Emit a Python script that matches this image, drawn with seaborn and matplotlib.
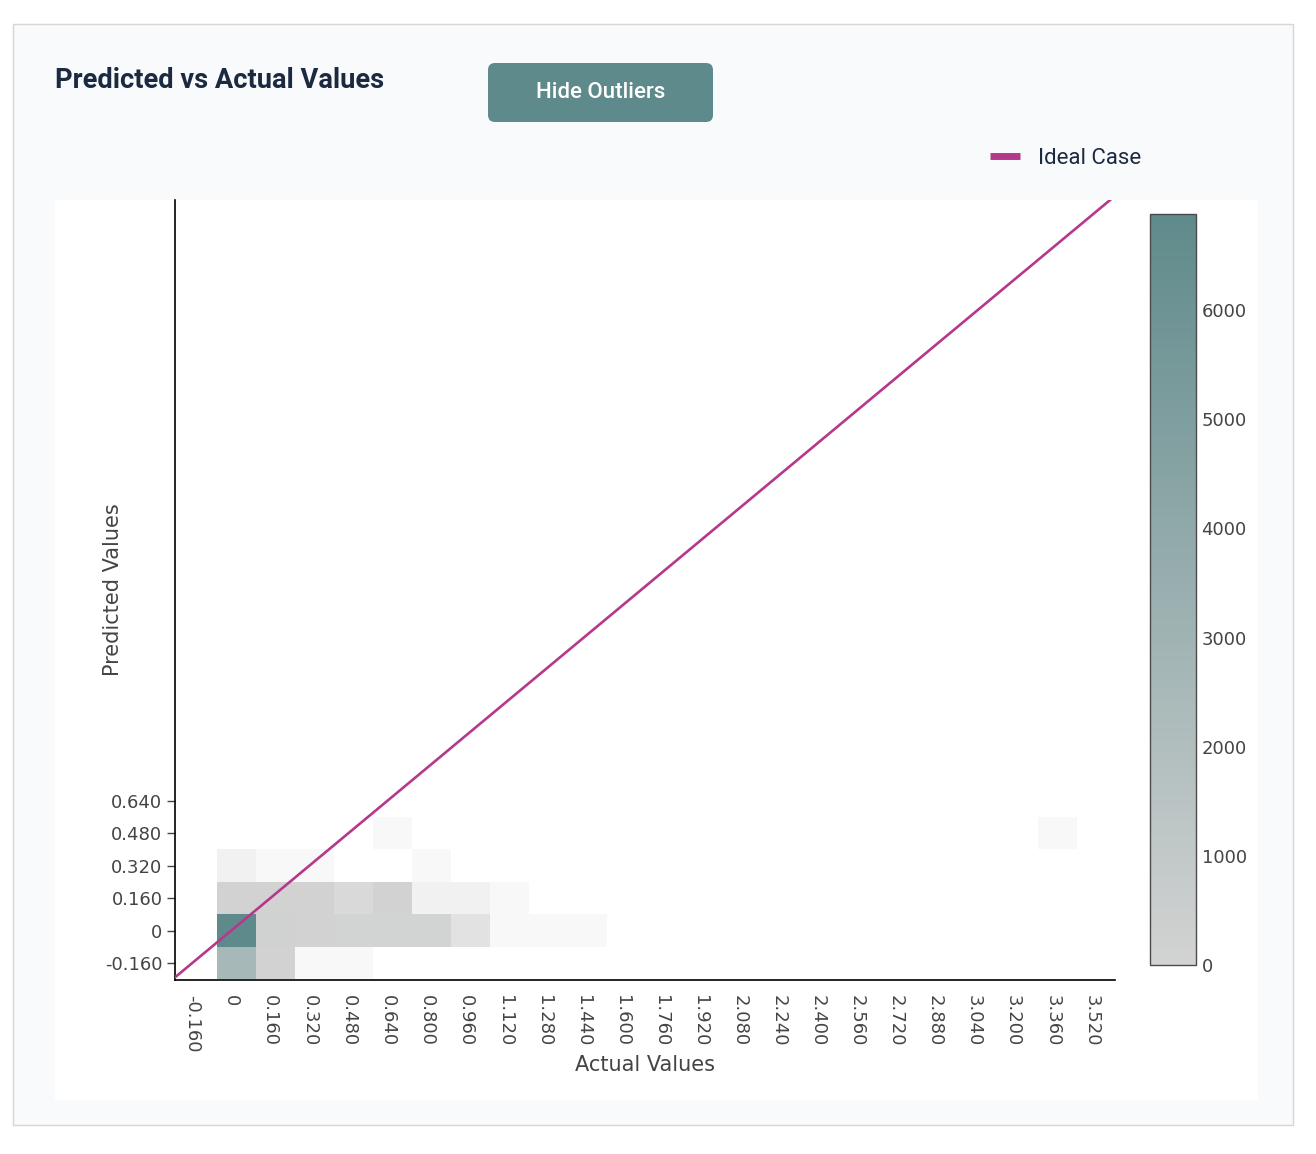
import numpy as np
import matplotlib
matplotlib.use("Agg")
import matplotlib.pyplot as plt
import seaborn as sns
from matplotlib.colors import LinearSegmentedColormap, Normalize
from matplotlib.cm import ScalarMappable
from matplotlib.patches import Rectangle, FancyBboxPatch
from matplotlib.transforms import Affine2D
from matplotlib.lines import Line2D

# ---------------- data (bin centres of the 2D histogram + counts) ----------------
actual_values = [0.02, 0.18, 0.34, 0.50,
                 0.02, 0.18, 0.34, 0.50, 0.66, 0.82, 0.98, 1.14, 1.30, 1.46,
                 0.02, 0.18, 0.34, 0.50, 0.66, 0.82, 0.98, 1.14,
                 0.02, 0.18, 0.34, 0.82,
                 0.66, 3.38]
predicted_values = [-0.16, -0.16, -0.16, -0.16,
                    0.0, 0.0, 0.0, 0.0, 0.0, 0.0, 0.0, 0.0, 0.0, 0.0,
                    0.16, 0.16, 0.16, 0.16, 0.16, 0.16, 0.16, 0.16,
                    0.32, 0.32, 0.32, 0.32,
                    0.48, 0.48]
cell_counts = [2650, 150, 16, 16,
               6880, 300, 170, 140, 140, 140, 66, 16, 16, 16,
               180, 150, 150, 86, 150, 32, 32, 16,
               32, 16, 16, 16,
               16, 16]

ideal_line = [-0.243, 3.60]

x_tick_values = [-0.16, 0.0, 0.16, 0.32, 0.48, 0.64, 0.80, 0.96, 1.12, 1.28, 1.44, 1.60,
                 1.76, 1.92, 2.08, 2.24, 2.40, 2.56, 2.72, 2.88, 3.04, 3.20, 3.36, 3.52]
x_tick_labels = ["-0.160", "0", "0.160", "0.320", "0.480", "0.640", "0.800", "0.960",
                 "1.120", "1.280", "1.440", "1.600", "1.760", "1.920", "2.080", "2.240",
                 "2.400", "2.560", "2.720", "2.880", "3.040", "3.200", "3.360", "3.520"]
y_tick_values = [-0.16, 0.0, 0.16, 0.32, 0.48, 0.64]
y_tick_labels = ["-0.160", "0", "0.160", "0.320", "0.480", "0.640"]
cbar_ticks = [0, 1000, 2000, 3000, 4000, 5000, 6000]
cbar_labels = ["0", "1000", "2000", "3000", "4000", "5000", "6000"]

# binning definition
bin_width = 0.16
x_bin_start, n_xbins = -0.06, 22
y_bin_start, n_ybins = -0.24, 5
x_edges = x_bin_start + bin_width * np.arange(n_xbins + 1)
y_edges = y_bin_start + bin_width * np.arange(n_ybins + 1)

# ---------------- styling ----------------
W, H = 1316, 1154
TEAL = "#5f8a8b"
LGRAY = "#d3d3d3"
MAG = "#b5398b"
NAVY = "#1b2a41"
TXT = "#444444"
vmax = max(cell_counts)

bar_cmap = LinearSegmentedColormap.from_list("gt", [LGRAY, TEAL], N=1024)
cell_cmap = LinearSegmentedColormap.from_list(
    "gt_cells", [(0.0, "#ffffff"), (100 / vmax, LGRAY), (1.0, TEAL)], N=16384)

sns.set_theme(style="white")
plt.rcParams["font.family"] = ["DejaVu Sans"]

fig = plt.figure(figsize=(W / 100, H / 100), dpi=100, facecolor="white")
PX = Affine2D().scale(1 / W, -1 / H).translate(0, 1) + fig.transFigure

# card and plot panel backgrounds
fig.add_artist(Rectangle((12.5, 23.5), 1280, 1101, transform=PX, facecolor="#f9fafb",
                         edgecolor="#d6d6d6", lw=1, zorder=-10))
fig.add_artist(Rectangle((55, 200), 1203, 900, transform=PX, facecolor="white",
                         edgecolor="none", zorder=-9))


def fr(x0, y0, x1, y1):
    return [x0 / W, 1 - y1 / H, (x1 - x0) / W, (y1 - y0) / H]


ax = fig.add_axes(fr(175, 200, 1115, 980))
cax = fig.add_axes(fr(1150, 214, 1196, 965))
ax.set_facecolor("white")

sns.histplot(x=actual_values, y=predicted_values, weights=cell_counts,
             bins=[x_edges, y_edges], cmap=cell_cmap, vmin=0, vmax=vmax,
             ax=ax, zorder=1)
sns.lineplot(x=ideal_line, y=ideal_line, color=MAG, lw=1.9, ax=ax, zorder=3,
             legend=False)

ax.set_xlim(-0.23, 3.617)
ax.set_ylim(-0.243, 3.597)
ax.set_xticks(x_tick_values)
ax.set_xticklabels(x_tick_labels, rotation=-90)
ax.set_yticks(y_tick_values)
ax.set_yticklabels(y_tick_labels)
ax.tick_params(axis="x", length=0, pad=11, labelsize=13, labelcolor=TXT, bottom=False)
ax.tick_params(axis="y", length=6, width=1, color=TXT, pad=3, labelsize=13,
               labelcolor=TXT, left=True)
sns.despine(ax=ax)
for s in ("left", "bottom"):
    ax.spines[s].set_color("black")
    ax.spines[s].set_linewidth(1.2)
ax.grid(False)

ax.set_xlabel("Actual Values", fontsize=15, color=TXT)
ax.xaxis.set_label_coords(0.5, -0.096)
ax.set_ylabel("Predicted Values", fontsize=15, color=TXT)
ax.yaxis.set_label_coords(-0.0555, 0.5)

cb = fig.colorbar(ScalarMappable(norm=Normalize(0, vmax), cmap=bar_cmap), cax=cax,
                  ticks=cbar_ticks)
cb.set_ticklabels(cbar_labels)
cb.outline.set_edgecolor("#4a4a4a")
cb.outline.set_linewidth(1)
cax.tick_params(length=0, pad=4, labelsize=13, labelcolor=TXT)

# title, button, legend
fig.text(55, 88, "Predicted vs Actual Values", transform=PX, ha="left", va="baseline",
         fontfamily="Roboto", fontweight="bold", fontsize=19.6, color=NAVY)
fig.add_artist(FancyBboxPatch((488, 63), 225, 59, boxstyle="round,pad=0,rounding_size=7",
                              transform=PX, facecolor=TEAL, edgecolor="none", zorder=-8))
fig.text(600.5, 93, "Hide Outliers", transform=PX, ha="center", va="center",
         fontfamily="Roboto", fontweight="medium", fontsize=16, color="white")

handle = Line2D([0], [0], color=MAG, lw=5, solid_capstyle="butt")
fig.legend(handles=[handle], labels=["Ideal Case"], loc="center left",
           bbox_to_anchor=(990 / W, 1 - 158 / H), frameon=False, borderpad=0,
           borderaxespad=0, handlelength=1.35, handletextpad=0.8,
           prop={"family": "Roboto", "size": 16}, labelcolor=NAVY)

fig.savefig("out.png", dpi=100, facecolor="white")
